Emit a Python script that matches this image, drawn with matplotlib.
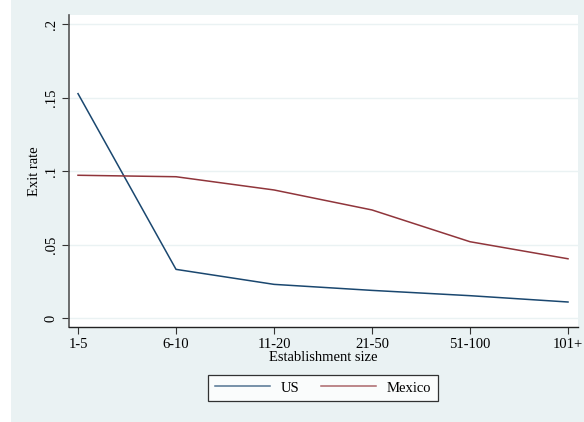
import matplotlib
matplotlib.use("Agg")
import matplotlib.pyplot as plt

# exit rates by establishment size
sizes = ["1-5", "6-10", "11-20", "21-50", "51-100", "101+"]
us = [0.1528, 0.0333, 0.0231, 0.0190, 0.0154, 0.0111]
mexico = [0.0973, 0.0963, 0.0873, 0.0737, 0.0521, 0.0405]

bg = "#EAF2F3"
plt.rcParams["font.family"] = ["Liberation Serif", "DejaVu Serif"]
plt.rcParams["font.size"] = 10.5

fig = plt.figure(figsize=(5.84, 4.22), dpi=100)
fig.patch.set_facecolor("white")
# stata-style outer panel
fig.patches.append(plt.Rectangle((11 / 584, 0), 1, 1, transform=fig.transFigure,
                                 facecolor=bg, edgecolor="none", zorder=-10))

ax = fig.add_axes([69 / 584, 1 - 327 / 422, (578 - 69) / 584, (327 - 15) / 422])
ax.set_facecolor("white")
x = range(len(sizes))
ax.plot(x, us, color="#1A476F", lw=1.1, label="US")
ax.plot(x, mexico, color="#90353B", lw=1.1, label="Mexico")

ax.set_xlim(-0.092, 5.102)
ax.set_ylim(-0.0059, 0.2063)
ax.set_xticks(list(x))
ax.set_xticklabels(sizes)
yt = [0, 0.05, 0.1, 0.15, 0.2]
ax.set_yticks(yt)
ax.set_yticklabels(["0", ".05", ".1", ".15", ".2"], rotation=90, va="center")
ax.grid(axis="y", color=bg, lw=1.0)
ax.set_axisbelow(True)
for s in ["top", "right"]:
    ax.spines[s].set_visible(False)
ax.spines["left"].set_color("#555555")
ax.spines["left"].set_linewidth(1.2)
ax.spines["bottom"].set_color("#222222")
ax.spines["bottom"].set_linewidth(1.0)
ax.tick_params(length=5, color="#333333", pad=3)
ax.set_xlabel("Establishment size", labelpad=0)
ax.set_ylabel("Exit rate", labelpad=3)

leg = ax.legend(loc="center", bbox_to_anchor=(323 / 584, 1 - 388 / 422),
                bbox_transform=fig.transFigure, ncol=2, frameon=True,
                fancybox=False, handlelength=3.8, columnspacing=1.5,
                borderpad=0.45, handletextpad=0.7)
leg.get_frame().set_edgecolor("black")
leg.get_frame().set_linewidth(0.9)
for h in leg.get_lines():
    h.set_alpha(0.75)

fig.savefig("out.png", dpi=100)
